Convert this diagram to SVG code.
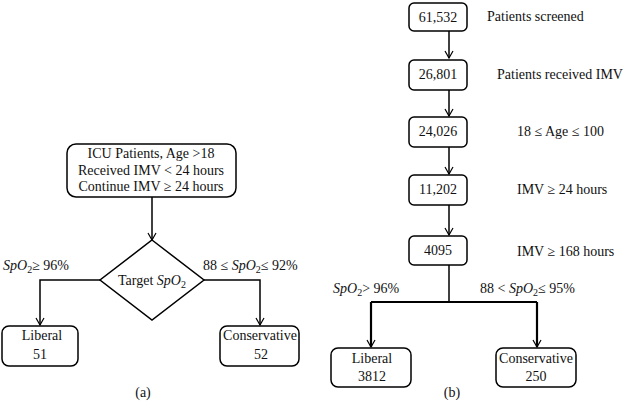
<svg xmlns="http://www.w3.org/2000/svg" width="640" height="403" viewBox="0 0 640 403">
<style>
.b{fill:#fff;stroke:#000;stroke-width:1.5}
text{font-family:'Liberation Serif','Times New Roman','DejaVu Serif',serif;font-size:14px;fill:#111;text-anchor:middle}
.l{text-anchor:start}
.c{fill:none;stroke:#000;stroke-width:1.5}
.t{stroke-width:2.2}
</style>
<defs><marker id="a" markerWidth="10" markerHeight="10" refX="8" refY="5" orient="auto" markerUnits="userSpaceOnUse"><path d="M1,1 L8,5 L1,9" fill="none" stroke="#000" stroke-width="1.2"/></marker></defs>
<g id="connectors">
<path class="c" d="M152,197 V240" marker-end="url(#a)"/>
<path class="c" d="M100,280 H40 V325" marker-end="url(#a)"/>
<path class="c" d="M204,280 H260 V325" marker-end="url(#a)"/>
<path class="c" d="M449,31 V58" marker-end="url(#a)"/>
<path class="c" d="M449,90 V116" marker-end="url(#a)"/>
<path class="c" d="M449,147 V174" marker-end="url(#a)"/>
<path class="c" d="M449,205 V235" marker-end="url(#a)"/>
<path class="c" d="M449,265 V302"/>
<path class="c t" d="M371,302 H537"/>
<path class="c t" d="M371,302 V347" marker-end="url(#a)"/>
<path class="c t" d="M537,302 V347" marker-end="url(#a)"/>
</g>
<g id="n-icu"><rect class="b" x="67" y="144" width="169" height="53" rx="9"/>
<text x="151" y="158">ICU Patients, Age &gt;18</text><text x="151" y="175">Received IMV &lt; 24 hours</text><text x="151" y="191" font-size="13">Continue IMV ≥ 24 hours</text></g>
<g id="n-target"><polygon class="b" points="152,240 204,280 152,320 100,280"/><text x="152" y="285">Target <tspan font-style="italic">SpO</tspan><tspan font-size="10" dy="3">2</tspan></text></g>
<text class="l" x="3" y="270"><tspan font-style="italic">SpO</tspan><tspan font-size="10" dy="3">2</tspan><tspan dy="-3">≥ 96%</tspan></text>
<text class="l" x="203" y="270">88 ≤ <tspan font-style="italic">SpO</tspan><tspan font-size="10" dy="3">2</tspan><tspan dy="-3">≤ 92%</tspan></text>
<g id="n-lib-a"><rect class="b" x="2" y="326" width="76" height="40" rx="7"/><text x="42" y="340">Liberal</text><text x="40" y="359">51</text></g>
<g id="n-con-a"><rect class="b" x="220" y="326" width="79" height="40" rx="7"/><text x="260" y="340">Conservative</text><text x="261" y="359">52</text></g>
<text x="143" y="397" font-size="15">(a)</text>
<g id="n1"><rect class="b" x="409" y="3" width="58" height="28" rx="5"/><text x="438" y="22">61,532</text></g>
<text class="l" x="487" y="21">Patients screened</text>
<g id="n2"><rect class="b" x="409" y="60" width="58" height="30" rx="5"/><text x="438" y="79">26,801</text></g>
<text class="l" x="497" y="79">Patients received IMV</text>
<g id="n3"><rect class="b" x="409" y="117" width="58" height="30" rx="5"/><text x="438" y="136">24,026</text></g>
<text class="l" x="517" y="136">18 ≤ Age ≤ 100</text>
<g id="n4"><rect class="b" x="409" y="175" width="58" height="30" rx="5"/><text x="438" y="194">11,202</text></g>
<text class="l" x="517" y="194">IMV ≥ 24 hours</text>
<g id="n5"><rect class="b" x="409" y="236" width="58" height="29" rx="5"/><text x="438" y="255">4095</text></g>
<text class="l" x="517" y="256">IMV ≥ 168 hours</text>
<text class="l" x="333" y="293"><tspan font-style="italic">SpO</tspan><tspan font-size="10" dy="3">2</tspan><tspan dy="-3">&gt; 96%</tspan></text>
<text class="l" x="480" y="293">88 &lt; <tspan font-style="italic">SpO</tspan><tspan font-size="10" dy="3">2</tspan><tspan dy="-3">≤ 95%</tspan></text>
<g id="n-lib-b"><rect class="b" x="331" y="348" width="80" height="39" rx="7"/><text x="372" y="363">Liberal</text><text x="372" y="381">3812</text></g>
<g id="n-con-b"><rect class="b" x="496" y="348" width="80" height="39" rx="7"/><text x="536" y="363">Conservative</text><text x="536" y="381">250</text></g>
<text x="452" y="397" font-size="15">(b)</text>
</svg>
